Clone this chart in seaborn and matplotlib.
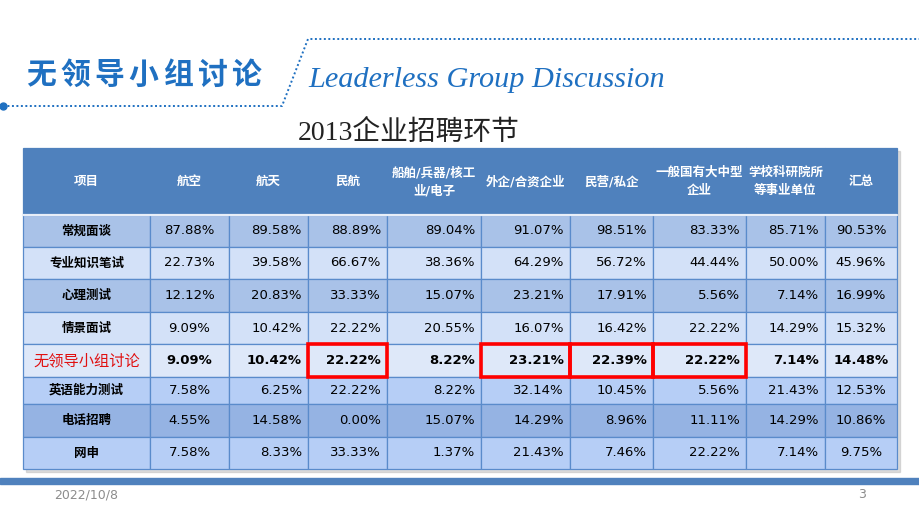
import matplotlib
matplotlib.use('Agg')
import matplotlib.pyplot as plt
from matplotlib.patches import Rectangle
from matplotlib.table import Table
import seaborn as sns

# table data
columns = ['项目', '航空', '航天', '民航', '船舶/兵器/核工\n业/电子', '外企/合资企业',
           '民营/私企', '一般国有大中型\n企业', '学校科研院所\n等事业单位', '汇总']
items = ['常规面谈', '专业知识笔试', '心理测试', '情景面试', '无领导小组讨论',
         '英语能力测试', '电话招聘', '网申']
aviation = [87.88, 22.73, 12.12, 9.09, 9.09, 7.58, 4.55, 7.58]
aerospace = [89.58, 39.58, 20.83, 10.42, 10.42, 6.25, 14.58, 8.33]
civil = [88.89, 66.67, 33.33, 22.22, 22.22, 22.22, 0.00, 33.33]
shipbuilding = [89.04, 38.36, 15.07, 20.55, 8.22, 8.22, 15.07, 1.37]
foreign = [91.07, 64.29, 23.21, 16.07, 23.21, 32.14, 14.29, 21.43]
private = [98.51, 56.72, 17.91, 16.42, 22.39, 10.45, 8.96, 7.46]
state_owned = [83.33, 44.44, 5.56, 22.22, 22.22, 5.56, 11.11, 22.22]
institutes = [85.71, 50.00, 7.14, 14.29, 7.14, 21.43, 14.29, 7.14]
total = [90.53, 45.96, 16.99, 15.32, 14.48, 12.53, 10.86, 9.75]

highlight_item = '无领导小组讨论'
boxed_columns = ['民航', '外企/合资企业', '民营/私企', '一般国有大中型\n企业']

series = [aviation, aerospace, civil, shipbuilding, foreign, private,
          state_owned, institutes, total]

# layout (pixels on a 920x517 canvas)
W, H = 920, 517
table_left, table_top = 23, 148
col_px = [127, 79, 79, 79, 94, 89, 83, 93, 79, 72]
row_px = [67, 32, 32, 33, 32, 33, 27, 33, 32]
row_colors = ['#A9C2E8', '#D3E1F8', '#A9C2E8', '#D3E1F8', '#DEE8F9',
              '#B6CEF6', '#95B3E3', '#B6CEF6']
header_color = '#4F81BD'
edge_color = '#5A8BCB'
blue = '#1F70C1'

sns.set_theme(style='white')
plt.rcParams['font.family'] = ['DejaVu Sans', 'Noto Sans CJK SC']

fig = plt.figure(figsize=(9.2, 5.17), dpi=100)
ax = fig.add_axes([0, 0, 1, 1])
ax.set_xlim(0, W)
ax.set_ylim(H, 0)
ax.axis('off')

# slide heading
title_cn = '无领导小组讨论'
for i, ch in enumerate(title_cn):
    ax.text(41 + i * 34.2, 75, ch, fontsize=21.5, fontweight='heavy', color=blue,
            family='Noto Sans CJK SC', ha='center', va='center')
ax.text(308, 80, 'Leaderless Group Discussion', fontsize=21.8, style='italic',
        family='Liberation Serif', color=blue, ha='left', va='center')
ax.plot([3, 282, 308, W], [106, 106, 39, 39], color=blue, lw=1.4,
        linestyle=(0, (1, 1.3)))
ax.plot([3], [106], 'o', color=blue, ms=5)

ax.text(298, 133, '2013企业招聘环节', fontsize=20, color='#222222',
        family=['Liberation Serif', 'Noto Sans CJK SC'], ha='left', va='center')

# table
table_w = sum(col_px)
table_h = sum(row_px)
bbox = [table_left / W, 1 - (table_top + table_h) / H, table_w / W, table_h / H]
ax.add_patch(Rectangle((table_left + 3, table_top + 3), table_w, table_h,
                       color='#BBBBBB', alpha=0.5, zorder=1))
tbl = Table(ax, bbox=bbox)
tbl.auto_set_font_size(False)

for c, label in enumerate(columns):
    cell = tbl.add_cell(0, c, col_px[c], row_px[0], text=label, loc='center',
                        facecolor=header_color, edgecolor=header_color)
    cell.get_text().set(color='white', fontsize=9, fontweight='bold',
                        linespacing=1.5)

for r, item in enumerate(items, start=1):
    bold = item == highlight_item
    cell = tbl.add_cell(r, 0, col_px[0], row_px[r], text=item, loc='center',
                        facecolor=row_colors[r - 1], edgecolor=edge_color)
    if bold:
        cell.get_text().set(color='#E01010', fontsize=11)
    else:
        cell.get_text().set(color='black', fontsize=9, fontweight='bold')
    for c, vals in enumerate(series, start=1):
        loc = 'center' if c in (1, len(columns) - 1) else 'right'
        cell = tbl.add_cell(r, c, col_px[c], row_px[r], text=f'{vals[r - 1]:.2f}%',
                            loc=loc, facecolor=row_colors[r - 1],
                            edgecolor=edge_color)
        cell.PAD = 6 / col_px[c]
        cell.get_text().set(color='black', fontsize=9.5,
                            fontweight='bold' if bold else 'normal')

for cell in tbl.get_celld().values():
    cell.set_linewidth(0.9)
tbl.set_zorder(2)
ax.add_table(tbl)

# white rule under the header
header_bottom = table_top + row_px[0]
ax.plot([table_left, table_left + table_w], [header_bottom, header_bottom],
        color='#E8EEF8', lw=1.6, zorder=3)

# red boxes around the highlighted cells
col_edges = [table_left]
for w in col_px:
    col_edges.append(col_edges[-1] + w)
row_edges = [table_top]
for h in row_px:
    row_edges.append(row_edges[-1] + h)
hr = items.index(highlight_item) + 1
for name in boxed_columns:
    c = columns.index(name)
    ax.add_patch(Rectangle((col_edges[c], row_edges[hr]),
                           col_edges[c + 1] - col_edges[c],
                           row_edges[hr + 1] - row_edges[hr],
                           fill=False, edgecolor='#FF0000', lw=2.6, zorder=4))

# footer
ax.add_patch(Rectangle((0, 478), W, 6, color=header_color, zorder=1))
ax.text(54, 495, '2022/10/8', fontsize=9, color='#8C8C8C', ha='left', va='center')
ax.text(862, 495, '3', fontsize=9, color='#8C8C8C', ha='center', va='center')

fig.savefig('out.png', dpi=100)
